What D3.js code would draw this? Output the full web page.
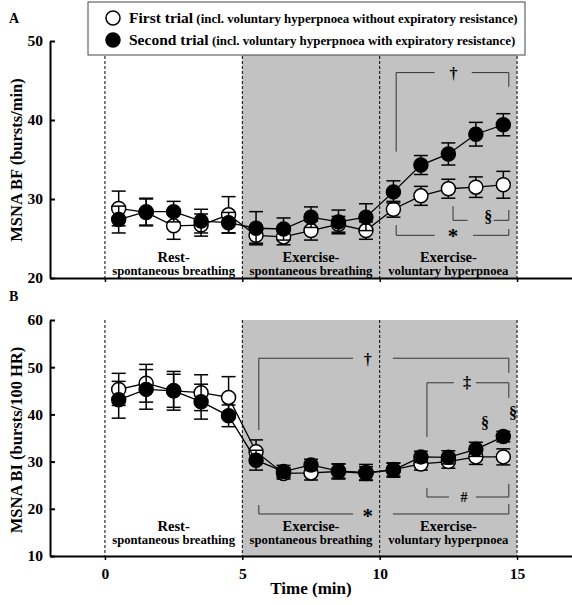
<!DOCTYPE html>
<html><head><meta charset="utf-8">
<script src="https://cdn.jsdelivr.net/npm/d3@7"></script>
<style>
body{margin:0;background:#fff;}
svg{display:block;}
text{font-family:"Liberation Serif","Times New Roman",serif;font-weight:bold;fill:#000;}
</style></head>
<body><svg id="c" width="572" height="605"></svg>
<script>
const time = [0.5,1.5,2.5,3.5,4.5,5.5,6.5,7.5,8.5,9.5,10.5,11.5,12.5,13.5,14.5];
const bfFirst    = [28.8,28.3,26.6,26.7,28.0,25.4,25.2,26.0,26.8,26.0,28.7,30.4,31.3,31.5,31.8];
const bfFirstSE  = [2.2,1.7,1.7,1.4,2.3,1.0,1.0,1.2,1.0,1.1,1.0,1.2,1.2,1.3,1.7];
const bfSecond   = [27.4,28.4,28.4,27.2,27.0,26.3,26.2,27.7,27.1,27.7,30.9,34.3,35.7,38.2,39.4];
const bfSecondSE = [1.7,1.7,1.3,1.5,1.3,2.1,1.4,1.3,1.5,1.7,1.4,1.2,1.4,1.5,1.4];
const biFirst    = [45.3,46.6,45.0,44.6,43.6,32.1,27.5,27.6,27.9,27.5,28.3,29.5,30.0,31.0,31.0];
const biFirstSE  = [3.4,4.0,3.5,3.8,4.4,2.5,1.2,1.5,1.6,1.4,1.4,1.3,1.4,1.6,1.7];
const biSecond   = [43.1,45.3,45.0,42.7,39.7,30.3,27.9,29.3,28.0,27.7,28.2,31.0,30.9,32.6,35.3];
const biSecondSE = [3.9,4.2,4.1,3.7,2.3,2.1,1.3,1.2,1.5,1.7,1.5,1.2,1.4,1.5,1.1];
const xTicks = [0,5,10,15];
const bfTicks = [20,30,40,50];
const biTicks = [10,20,30,40,50,60];
const phaseBounds = [0,5,10,15];
const phaseTop = ["Rest-","Exercise-","Exercise-"];
const phaseBottom = ["spontaneous breathing","spontaneous breathing","voluntary hyperpnoea"];
const legendMain = ["First trial","Second trial"];
const legendSub = ["(incl. voluntary hyperpnoea without expiratory resistance)","(incl. voluntary hyperpnoea with expiratory resistance)"];

const svg = d3.select("#c");
const x = d3.scaleLinear().domain([-2,17]).range([50,572]);

function panel(cfg){
  const y = d3.scaleLinear().domain(cfg.domain).range(cfg.range);
  const g = svg.append("g");
  const top = cfg.range[1], bot = cfg.range[0];
  g.append("rect").attr("x",x(5)).attr("y",top).attr("width",x(15)-x(5)).attr("height",bot-top).attr("fill","#c2c2c2");
  g.selectAll("line.ph").data(phaseBounds).join("line")
    .attr("x1",d=>x(d)).attr("x2",d=>x(d)).attr("y1",top).attr("y2",bot)
    .attr("stroke","#000").attr("stroke-width",1).attr("stroke-dasharray","3,2");
  for(let i=0;i<3;i++){
    const cx = x(phaseBounds[i]+2.5);
    g.append("text").attr("x",cx).attr("y",cfg.labY).attr("text-anchor","middle").attr("font-size",14.5).text(phaseTop[i]);
    g.append("text").attr("x",cx).attr("y",cfg.labY+12.5).attr("text-anchor","middle").attr("font-size",12.7).text(phaseBottom[i]);
  }
  const ann = g.append("g").attr("stroke","#333").attr("stroke-width",1).attr("fill","none");
  cfg.brackets.forEach(pts=>{
    ann.append("path").attr("d",d3.line().x(p=>x(p[0])).y(p=>y(p[1]))(pts));
  });
  cfg.symbols.forEach(s=>{
    g.append("text").attr("x",x(s[0])).attr("y",y(s[1])).attr("dy","0.35em").attr("text-anchor","middle")
      .attr("font-size",s[3]||16).attr("font-weight","normal").text(s[2]);
  });
  const series = [
    {v:cfg.first, se:cfg.firstSE, fill:"#fff"},
    {v:cfg.second, se:cfg.secondSE, fill:"#000"}
  ];
  series.forEach(s=>{
    const gs = g.append("g");
    gs.append("path").datum(time.map((t,i)=>[t,s.v[i]]))
      .attr("d",d3.line().x(d=>x(d[0])).y(d=>y(d[1])))
      .attr("fill","none").attr("stroke","#000").attr("stroke-width",1.3);
    const eb = gs.selectAll("g.eb").data(time).join("g").attr("stroke","#000").attr("stroke-width",1.5);
    eb.append("line").attr("x1",d=>x(d)).attr("x2",d=>x(d)).attr("y1",(d,i)=>y(s.v[i]-s.se[i])).attr("y2",(d,i)=>y(s.v[i]+s.se[i]));
    eb.append("line").attr("x1",d=>x(d)-7).attr("x2",d=>x(d)+7).attr("y1",(d,i)=>y(s.v[i]+s.se[i])).attr("y2",(d,i)=>y(s.v[i]+s.se[i]));
    eb.append("line").attr("x1",d=>x(d)-7).attr("x2",d=>x(d)+7).attr("y1",(d,i)=>y(s.v[i]-s.se[i])).attr("y2",(d,i)=>y(s.v[i]-s.se[i]));
    gs.selectAll("circle").data(time).join("circle")
      .attr("cx",d=>x(d)).attr("cy",(d,i)=>y(s.v[i])).attr("r",7)
      .attr("fill",s.fill).attr("stroke","#000").attr("stroke-width",1.5);
  });
  const ya = g.append("g").attr("transform",`translate(${x(-2)},0)`)
    .call(d3.axisLeft(y).tickValues(cfg.ticks).tickSize(-5).tickSizeOuter(0).tickPadding(7));
  ya.select(".domain").attr("stroke-width",2);
  ya.selectAll(".tick line").attr("stroke-width",2);
  ya.selectAll("text").attr("font-size",15.5).attr("font-family","Liberation Serif").attr("font-weight","bold");
  const xa = g.append("g").attr("transform",`translate(0,${bot})`)
    .call(d3.axisBottom(x).tickValues(xTicks).tickSize(4).tickSizeOuter(0).tickPadding(8)
      .tickFormat(cfg.xlabels ? d3.format("d") : ""));
  xa.select(".domain").attr("stroke-width",2);
  xa.selectAll(".tick line").attr("stroke-width",1.5);
  xa.selectAll("text").attr("font-size",15.5).attr("font-family","Liberation Serif").attr("font-weight","bold");
  g.append("text").attr("transform",`translate(${cfg.titleX},${cfg.titleY}) rotate(-90)`)
    .attr("text-anchor","middle").attr("font-size",16.5).text(cfg.title);
  g.append("text").attr("x",9).attr("y",cfg.letterY).attr("font-family","Liberation Sans,Arial,sans-serif")
    .attr("font-size",14).attr("font-weight","bold").text(cfg.letter);
  return y;
}

panel({
  domain:[20,50], range:[278,41], ticks:bfTicks,
  first:bfFirst, firstSE:bfFirstSE, second:bfSecond, secondSE:bfSecondSE,
  labY:262, xlabels:false, title:"MSNA BF (bursts/min)", titleX:22, titleY:160,
  letter:"A", letterY:23,
  brackets:[
    [[10.6,36.0],[10.6,46.0],[12.0,46.0]],
    [[13.35,46.0],[14.7,46.0],[14.7,44.2]],
    [[10.6,26.7],[10.6,25.4],[12.0,25.4]],
    [[13.4,25.4],[14.7,25.4],[14.7,26.2]],
    [[12.67,29.1],[12.67,27.3],[13.2,27.3]],
    [[14.15,27.3],[14.7,27.3],[14.7,28.6]]
  ],
  symbols:[[12.69,45.9,"\u2020"],[12.67,25.3,"*",21],[13.95,27.8,"\u00a7"]]
});

panel({
  domain:[10,60], range:[556,320], ticks:biTicks,
  first:biFirst, firstSE:biFirstSE, second:biSecond, secondSE:biSecondSE,
  labY:531, xlabels:true, title:"MSNA BI (bursts/100 HR)", titleX:22, titleY:440,
  letter:"B", letterY:301,
  brackets:[
    [[5.6,36.7],[5.6,51.9],[9.03,51.9]],
    [[10.48,51.9],[14.7,51.9],[14.7,48.8]],
    [[5.6,20.8],[5.6,18.9],[9.03,18.9]],
    [[10.48,18.9],[14.7,18.9],[14.7,21.0]],
    [[11.72,35.2],[11.72,46.7],[12.7,46.7]],
    [[13.5,46.7],[14.7,46.7],[14.7,43.5]],
    [[11.72,24.4],[11.72,22.5],[12.52,22.5]],
    [[13.5,22.5],[14.7,22.5],[14.7,25.3]]
  ],
  symbols:[[9.57,51.6,"\u2020"],[9.57,18.6,"*",21],[13.18,46.7,"\u2021"],[13.07,22.5,"#",14],
           [13.83,38.2,"\u00a7"],[14.85,40.5,"\u00a7"]]
});

svg.append("text").attr("x",x(7.5)).attr("y",594).attr("text-anchor","middle").attr("font-size",17).text("Time (min)");

const lg = svg.append("g");
lg.append("rect").attr("x",88).attr("y",2).attr("width",437).attr("height",53)
  .attr("fill","#fff").attr("stroke","#444").attr("stroke-width",1);
[0,1].forEach(i=>{
  const cy = 18 + i*22;
  lg.append("circle").attr("cx",113).attr("cy",cy).attr("r",7)
    .attr("fill", i===0?"#fff":"#000").attr("stroke","#000").attr("stroke-width",1.5);
  const t = lg.append("text").attr("x",129).attr("y",cy+5);
  t.append("tspan").attr("font-size",15.5).text(legendMain[i]);
  t.append("tspan").attr("font-size",12.9).text(" "+legendSub[i]);
});
</script></body></html>
